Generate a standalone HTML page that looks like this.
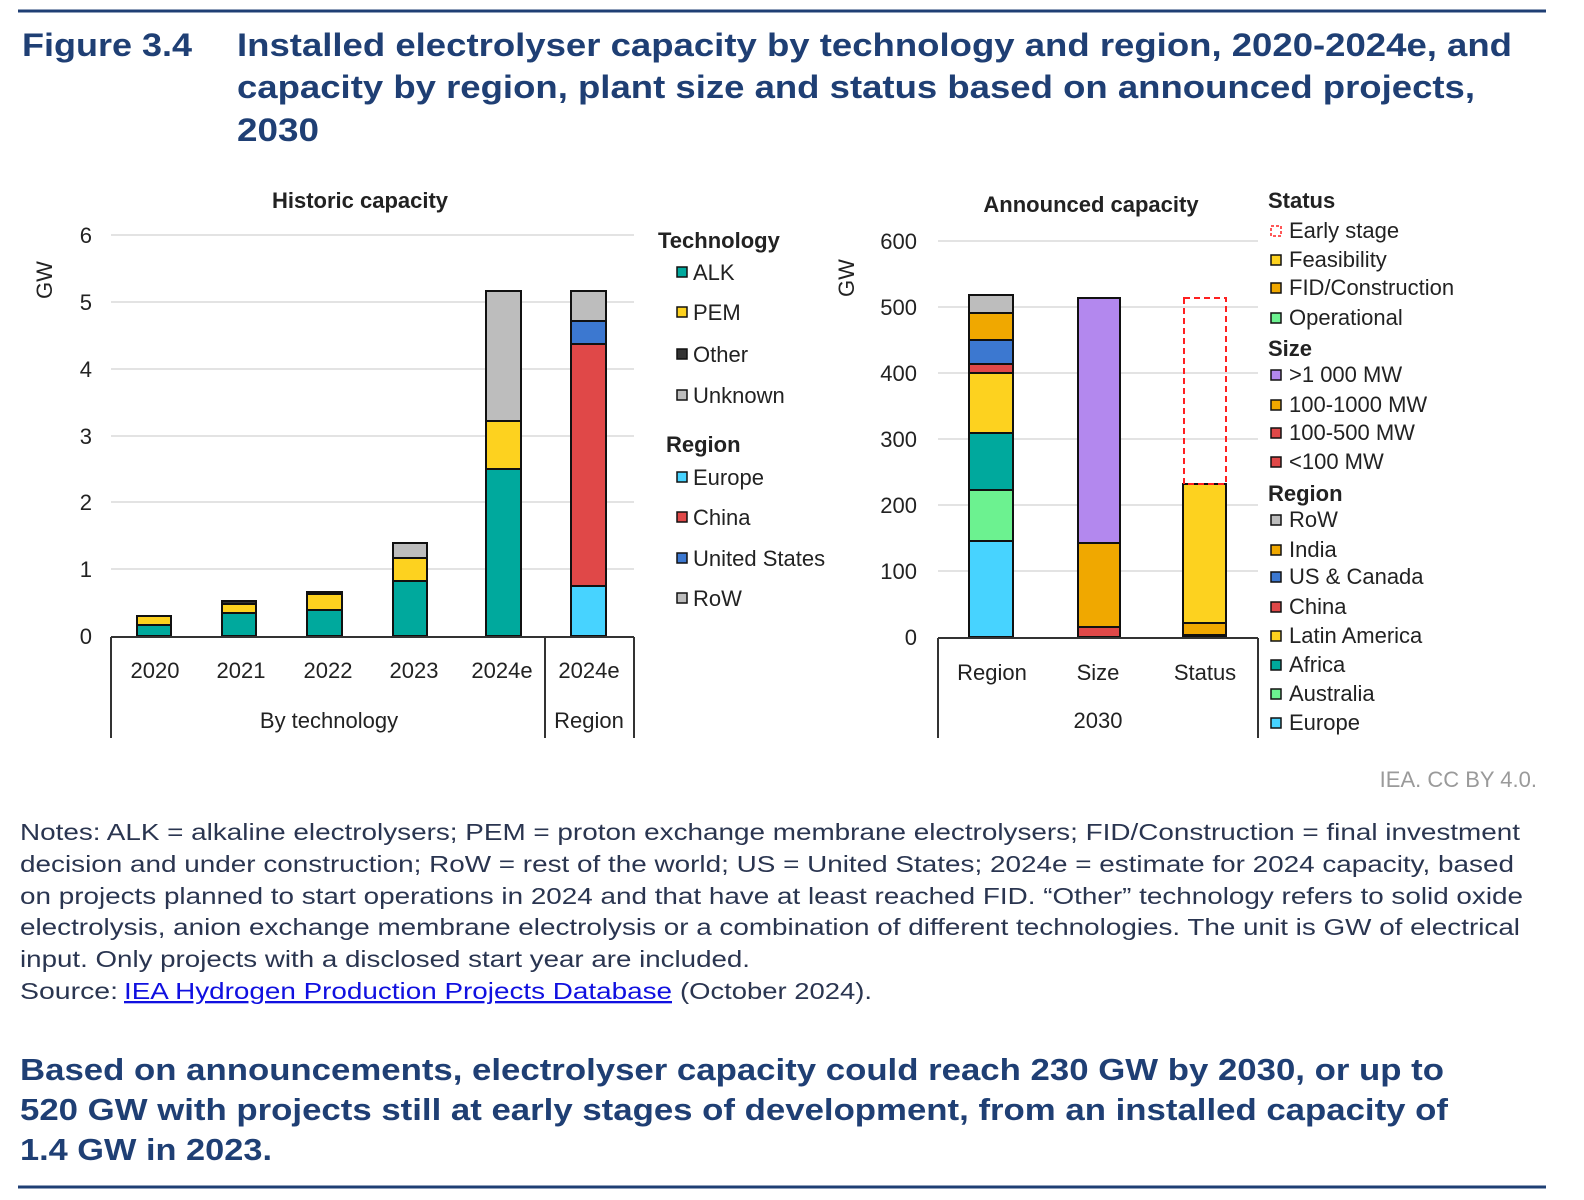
<!DOCTYPE html>
<html><head><meta charset="utf-8"><style>
html,body{margin:0;padding:0;background:#fff;}
svg{display:block;}
text{font-family:"Liberation Sans",sans-serif;}
</style></head><body>
<svg width="1584" height="1200" viewBox="0 0 1584 1200" xmlns="http://www.w3.org/2000/svg">
<rect width="1584" height="1200" fill="#fff"/>
<line x1="18" y1="11" x2="1546" y2="11" stroke="#1F3F74" stroke-width="3"/>
<g fill="#1F3F74" font-weight="bold" font-size="32">
<text x="22" y="56" textLength="170" lengthAdjust="spacingAndGlyphs">Figure 3.4</text>
<text x="237" y="56" textLength="1275" lengthAdjust="spacingAndGlyphs">Installed electrolyser capacity by technology and region, 2020-2024e, and</text>
<text x="237" y="98" textLength="1238" lengthAdjust="spacingAndGlyphs">capacity by region, plant size and status based on announced projects,</text>
<text x="237" y="141" textLength="82" lengthAdjust="spacingAndGlyphs">2030</text>
</g>

<!-- LEFT CHART -->
<g stroke="#e3e3e3" stroke-width="2">
<line x1="111" y1="235" x2="634" y2="235"/><line x1="111" y1="302" x2="634" y2="302"/>
<line x1="111" y1="369" x2="634" y2="369"/><line x1="111" y1="436" x2="634" y2="436"/>
<line x1="111" y1="502" x2="634" y2="502"/><line x1="111" y1="569" x2="634" y2="569"/>
</g>
<g font-size="22" fill="#222" text-anchor="end">
<text x="92" y="243">6</text><text x="92" y="310">5</text><text x="92" y="377">4</text>
<text x="92" y="444">3</text><text x="92" y="510">2</text><text x="92" y="577">1</text><text x="92" y="644">0</text>
</g>
<text transform="translate(52,280) rotate(-90)" font-size="22" fill="#222" text-anchor="middle">GW</text>
<text x="360" y="208" font-size="22" font-weight="bold" fill="#222" text-anchor="middle">Historic capacity</text>
<g stroke="#111" stroke-width="2">
<rect x="137" y="625" width="34" height="11" fill="#00A99D"/>
<rect x="137" y="616" width="34" height="9" fill="#FDD21F"/>
<rect x="222" y="613" width="34" height="23" fill="#00A99D"/>
<rect x="222" y="604" width="34" height="9" fill="#FDD21F"/>
<rect x="222" y="601" width="34" height="3" fill="#333"/>
<rect x="307" y="610" width="35" height="26" fill="#00A99D"/>
<rect x="307" y="594" width="35" height="16" fill="#FDD21F"/>
<rect x="307" y="592" width="35" height="2" fill="#333"/>
<rect x="393" y="581" width="34" height="55" fill="#00A99D"/>
<rect x="393" y="558" width="34" height="23" fill="#FDD21F"/>
<rect x="393" y="543" width="34" height="15" fill="#BDBDBD"/>
<rect x="486" y="469" width="35" height="167" fill="#00A99D"/>
<rect x="486" y="421" width="35" height="48" fill="#FDD21F"/>
<rect x="486" y="291" width="35" height="130" fill="#BDBDBD"/>
<rect x="571" y="586" width="35" height="50" fill="#47D3FF"/>
<rect x="571" y="344" width="35" height="242" fill="#E04848"/>
<rect x="571" y="321" width="35" height="23" fill="#3C78D0"/>
<rect x="571" y="291" width="35" height="30" fill="#BDBDBD"/>
</g>
<g stroke="#333" stroke-width="2">
<line x1="111" y1="637" x2="634" y2="637"/>
<line x1="111" y1="637" x2="111" y2="738"/>
<line x1="545" y1="637" x2="545" y2="738"/>
<line x1="634" y1="637" x2="634" y2="738"/>
</g>
<g font-size="22" fill="#222" text-anchor="middle">
<text x="155" y="678">2020</text><text x="241" y="678">2021</text><text x="328" y="678">2022</text>
<text x="414" y="678">2023</text><text x="502" y="678">2024e</text><text x="589" y="678">2024e</text>
<text x="329" y="728">By technology</text><text x="589" y="728">Region</text>
</g>
<g font-size="22" fill="#222">
<text x="658" y="248" font-weight="bold">Technology</text>
<text x="693" y="280">ALK</text><text x="693" y="320">PEM</text><text x="693" y="362">Other</text><text x="693" y="403">Unknown</text>
<text x="666" y="452" font-weight="bold">Region</text>
<text x="693" y="485">Europe</text><text x="693" y="525">China</text><text x="693" y="566">United States</text><text x="693" y="606">RoW</text>
</g>
<g stroke="#111" stroke-width="1.5">
<rect x="677" y="267" width="10" height="10" fill="#00A99D"/>
<rect x="677" y="307" width="10" height="10" fill="#FDD21F"/>
<rect x="677" y="349" width="10" height="10" fill="#333"/>
<rect x="677" y="390" width="10" height="10" fill="#BDBDBD"/>
<rect x="677" y="472" width="10" height="10" fill="#47D3FF"/>
<rect x="677" y="512" width="10" height="10" fill="#E04848"/>
<rect x="677" y="553" width="10" height="10" fill="#3C78D0"/>
<rect x="677" y="593" width="10" height="10" fill="#BDBDBD"/>
</g>

<!-- RIGHT CHART -->
<g stroke="#e3e3e3" stroke-width="2">
<line x1="938" y1="241" x2="1258" y2="241"/><line x1="938" y1="307" x2="1258" y2="307"/>
<line x1="938" y1="373" x2="1258" y2="373"/><line x1="938" y1="439" x2="1258" y2="439"/>
<line x1="938" y1="505" x2="1258" y2="505"/><line x1="938" y1="571" x2="1258" y2="571"/>
</g>
<g font-size="22" fill="#222" text-anchor="end">
<text x="917" y="249">600</text><text x="917" y="315">500</text><text x="917" y="381">400</text>
<text x="917" y="447">300</text><text x="917" y="513">200</text><text x="917" y="579">100</text><text x="917" y="645">0</text>
</g>
<text transform="translate(854,278) rotate(-90)" font-size="22" fill="#222" text-anchor="middle">GW</text>
<text x="1091" y="212" font-size="22" font-weight="bold" fill="#222" text-anchor="middle">Announced capacity</text>
<g stroke="#111" stroke-width="2">
<rect x="969" y="541" width="44" height="96" fill="#47D3FF"/>
<rect x="969" y="490" width="44" height="51" fill="#6CF290"/>
<rect x="969" y="433" width="44" height="57" fill="#00A99D"/>
<rect x="969" y="373" width="44" height="60" fill="#FDD21F"/>
<rect x="969" y="364" width="44" height="9" fill="#E04848"/>
<rect x="969" y="340" width="44" height="24" fill="#3C78D0"/>
<rect x="969" y="313" width="44" height="27" fill="#F0A800"/>
<rect x="969" y="295" width="44" height="18" fill="#BDBDBD"/>
<rect x="1078" y="627" width="42" height="10" fill="#E04848"/>
<rect x="1078" y="543" width="42" height="84" fill="#F0A800"/>
<rect x="1078" y="298" width="42" height="245" fill="#B388EE"/>
<rect x="1183" y="635" width="43" height="2" fill="#333"/>
<rect x="1183" y="623" width="43" height="12" fill="#F0A800"/>
<rect x="1183" y="484" width="43" height="139" fill="#FDD21F"/>
</g>
<rect x="1184" y="298" width="42" height="186" fill="none" stroke="#FF2020" stroke-width="2" stroke-dasharray="6,4"/>
<g stroke="#333" stroke-width="2">
<line x1="938" y1="638" x2="1258" y2="638"/>
<line x1="938" y1="638" x2="938" y2="738"/>
<line x1="1258" y1="638" x2="1258" y2="738"/>
</g>
<g font-size="22" fill="#222" text-anchor="middle">
<text x="992" y="680">Region</text><text x="1098" y="680">Size</text><text x="1205" y="680">Status</text>
<text x="1098" y="728">2030</text>
</g>
<g font-size="22" fill="#222">
<text x="1268" y="208" font-weight="bold">Status</text>
<text x="1289" y="238">Early stage</text><text x="1289" y="267">Feasibility</text>
<text x="1289" y="295">FID/Construction</text><text x="1289" y="325">Operational</text>
<text x="1268" y="356" font-weight="bold">Size</text>
<text x="1289" y="382">&gt;1 000 MW</text><text x="1289" y="412">100-1000 MW</text>
<text x="1289" y="440">100-500 MW</text><text x="1289" y="469">&lt;100 MW</text>
<text x="1268" y="501" font-weight="bold">Region</text>
<text x="1289" y="527">RoW</text><text x="1289" y="557">India</text><text x="1289" y="584">US &amp; Canada</text>
<text x="1289" y="614">China</text><text x="1289" y="643">Latin America</text><text x="1289" y="672">Africa</text>
<text x="1289" y="701">Australia</text><text x="1289" y="730">Europe</text>
</g>
<rect x="1271" y="226" width="10" height="10" fill="none" stroke="#FF2020" stroke-width="1.5" stroke-dasharray="3,2"/>
<g stroke="#111" stroke-width="1.5">
<rect x="1271" y="255" width="10" height="10" fill="#FDD21F"/>
<rect x="1271" y="283" width="10" height="10" fill="#F0A800"/>
<rect x="1271" y="313" width="10" height="10" fill="#6CF290"/>
<rect x="1271" y="370" width="10" height="10" fill="#B388EE"/>
<rect x="1271" y="400" width="10" height="10" fill="#F0A800"/>
<rect x="1271" y="428" width="10" height="10" fill="#E04848"/>
<rect x="1271" y="457" width="10" height="10" fill="#E04848"/>
<rect x="1271" y="515" width="10" height="10" fill="#BDBDBD"/>
<rect x="1271" y="545" width="10" height="10" fill="#F0A800"/>
<rect x="1271" y="572" width="10" height="10" fill="#3C78D0"/>
<rect x="1271" y="602" width="10" height="10" fill="#E04848"/>
<rect x="1271" y="631" width="10" height="10" fill="#FDD21F"/>
<rect x="1271" y="660" width="10" height="10" fill="#00A99D"/>
<rect x="1271" y="689" width="10" height="10" fill="#6CF290"/>
<rect x="1271" y="718" width="10" height="10" fill="#47D3FF"/>
</g>

<text x="1537" y="787" font-size="22" fill="#9a9a9a" text-anchor="end">IEA. CC BY 4.0.</text>

<g font-size="23" fill="#2A3550">
<text x="20" y="840" textLength="1500" lengthAdjust="spacingAndGlyphs">Notes: ALK = alkaline electrolysers; PEM = proton exchange membrane electrolysers; FID/Construction = final investment</text>
<text x="20" y="872" textLength="1494" lengthAdjust="spacingAndGlyphs">decision and under construction; RoW = rest of the world; US = United States; 2024e = estimate for 2024 capacity, based</text>
<text x="20" y="904" textLength="1503" lengthAdjust="spacingAndGlyphs">on projects planned to start operations in 2024 and that have at least reached FID. “Other” technology refers to solid oxide</text>
<text x="20" y="935" textLength="1500" lengthAdjust="spacingAndGlyphs">electrolysis, anion exchange membrane electrolysis or a combination of different technologies. The unit is GW of electrical</text>
<text x="20" y="967" textLength="730" lengthAdjust="spacingAndGlyphs">input. Only projects with a disclosed start year are included.</text>
<text x="20" y="999" textLength="98" lengthAdjust="spacingAndGlyphs">Source:</text>
<text x="124" y="999" textLength="548" lengthAdjust="spacingAndGlyphs" fill="#1010E0" text-decoration="underline">IEA Hydrogen Production Projects Database</text>
<text x="680" y="999" textLength="192" lengthAdjust="spacingAndGlyphs">(October 2024).</text>
</g>

<g font-size="31" fill="#1F3F74" font-weight="bold">
<text x="20" y="1080" textLength="1424" lengthAdjust="spacingAndGlyphs">Based on announcements, electrolyser capacity could reach 230 GW by 2030, or up to</text>
<text x="20" y="1120" textLength="1428" lengthAdjust="spacingAndGlyphs">520 GW with projects still at early stages of development, from an installed capacity of</text>
<text x="20" y="1160" textLength="252" lengthAdjust="spacingAndGlyphs">1.4 GW in 2023.</text>
</g>
<line x1="18" y1="1187" x2="1546" y2="1187" stroke="#1F3F74" stroke-width="3"/>
</svg>
</body></html>
